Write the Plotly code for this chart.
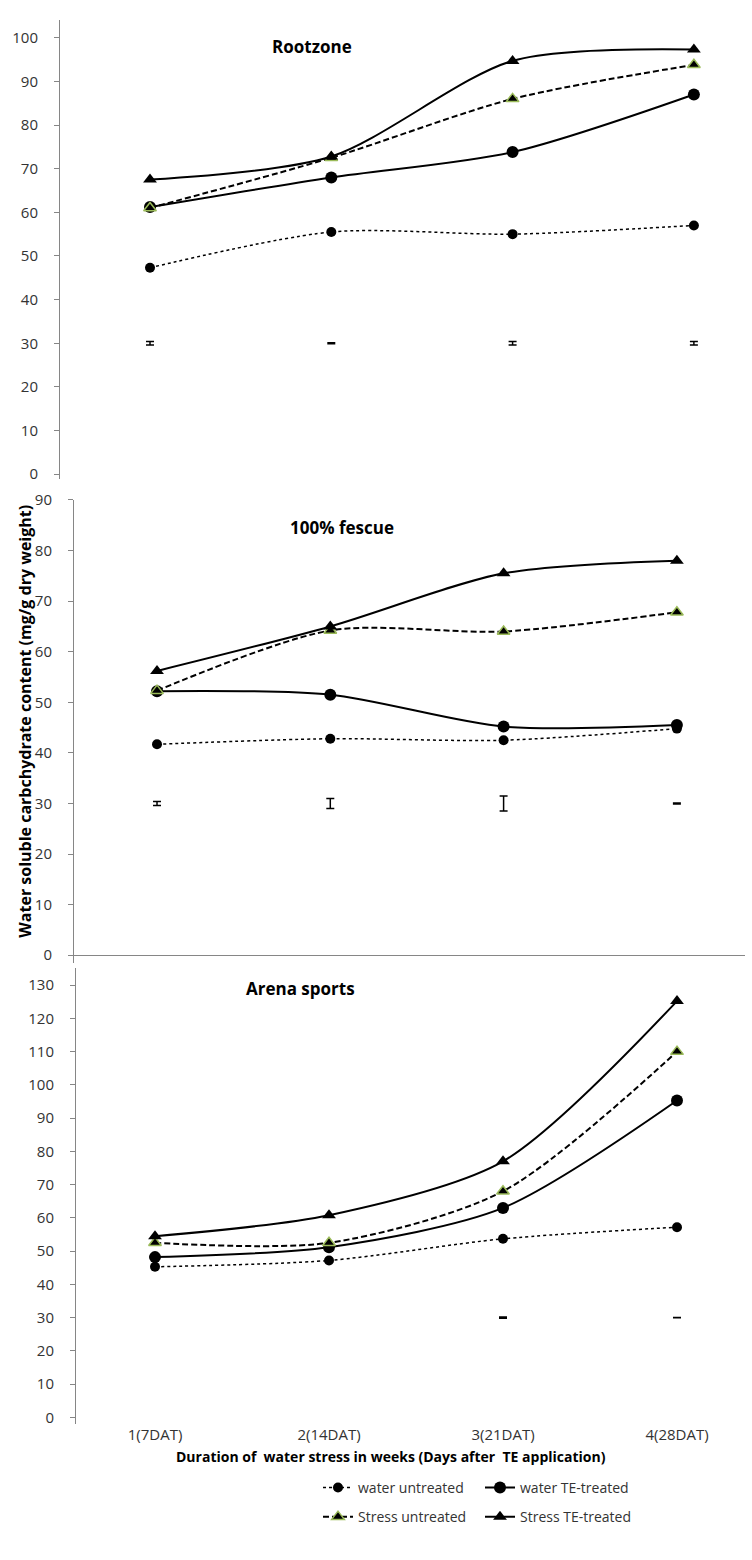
import plotly.graph_objects as go

# ---------------- data ----------------
categories = ["1(7DAT)", "2(14DAT)", "3(21DAT)", "4(28DAT)"]
series_names = ["water untreated", "water TE-treated", "Stress untreated", "Stress TE-treated"]

root_water_untreated = [47.3, 55.5, 55.0, 57.0]
root_water_te = [61.2, 68.0, 73.8, 87.0]
root_stress_untreated = [61.0, 72.5, 86.0, 93.8]
root_stress_te = [67.5, 72.8, 94.7, 97.3]
root_lsd_level = [30, 30, 30, 30]
root_lsd = [0.4, 0.1, 0.4, 0.4]

fescue_water_untreated = [41.7, 42.8, 42.5, 44.8]
fescue_water_te = [52.2, 51.5, 45.2, 45.5]
fescue_stress_untreated = [52.3, 64.2, 64.0, 67.8]
fescue_stress_te = [56.2, 65.0, 75.5, 78.0]
fescue_lsd_level = [30, 30, 30, 30]
fescue_lsd = [0.4, 1.0, 1.5, 0.1]

arena_water_untreated = [45.3, 47.2, 53.7, 57.2]
arena_water_te = [48.2, 51.2, 63.0, 95.3]
arena_stress_untreated = [52.5, 52.5, 68.0, 110.0]
arena_stress_te = [54.5, 60.8, 77.0, 125.2]
arena_lsd_level = [None, None, 30, 30]
arena_lsd = [0, 0, 0.2, 0.05]

panel_titles = ["Rootzone", "100% fescue", "Arena sports"]
y_title = "Water soluble carbchydrate content (mg/g dry weight)"
x_title = "Duration of  water stress in weeks (Days after  TE application)"

# ---------------- layout helpers ----------------
W, H = 752, 1560
FONT = "Open Sans"
AX = "#868686"
TXT = "#333333"


def px(x):
    return x / W


def py(y):
    return 1 - y / H


xpos = list(range(len(categories)))

styles = [
    dict(line=dict(color="black", width=1.5, dash="dot"),
         marker=dict(symbol="circle", size=10, color="black")),
    dict(line=dict(color="black", width=2),
         marker=dict(symbol="circle", size=12, color="black")),
    dict(line=dict(color="black", width=2, dash="6px,3px"),
         marker=dict(symbol="triangle-up", size=11, color="black",
                     line=dict(color="#9BBB59", width=1.5))),
    dict(line=dict(color="black", width=2),
         marker=dict(symbol="triangle-up", size=12, color="black")),
]
legend_of = ["legend", "legend2", "legend", "legend2"]

panels = [
    [root_water_untreated, root_water_te, root_stress_untreated, root_stress_te,
     root_lsd_level, root_lsd],
    [fescue_water_untreated, fescue_water_te, fescue_stress_untreated, fescue_stress_te,
     fescue_lsd_level, fescue_lsd],
    [arena_water_untreated, arena_water_te, arena_stress_untreated, arena_stress_te,
     arena_lsd_level, arena_lsd],
]

fig = go.Figure()

for p, pdata in enumerate(panels):
    xa = "x" if p == 0 else f"x{p + 1}"
    ya = "y" if p == 0 else f"y{p + 1}"
    for s in range(4):
        st = styles[s]
        fig.add_trace(go.Scatter(
            x=xpos, y=pdata[s], name=series_names[s],
            mode="lines+markers",
            line=dict(shape="spline", smoothing=0.8, **st["line"]),
            marker=st["marker"],
            xaxis=xa, yaxis=ya,
            showlegend=(p == 0),
            legend=legend_of[s],
            legendgroup=series_names[s],
            legendrank=s,
        ))
    fig.add_trace(go.Scatter(
        x=xpos, y=pdata[4], mode="markers",
        marker=dict(size=1, color="rgba(0,0,0,0)"),
        error_y=dict(type="data", array=pdata[5], visible=True,
                     color="black", thickness=1.5, width=4),
        xaxis=xa, yaxis=ya, showlegend=False, hoverinfo="skip",
    ))

yaxis_common = dict(showline=True, linecolor=AX, linewidth=1, ticks="outside",
                    ticklen=5, tickcolor=AX, showgrid=False, zeroline=False,
                    dtick=10, tick0=0, tickfont=dict(family=FONT, size=15, color=TXT),
                    ticklabelstandoff=13)
xaxis_common = dict(showline=False, showgrid=False, zeroline=False, ticks="",
                    tickvals=xpos, ticktext=categories,
                    tickfont=dict(family=FONT, size=15, color=TXT))

fig.update_layout(
    width=W, height=H,
    margin=dict(l=0, r=0, t=0, b=0),
    paper_bgcolor="white", plot_bgcolor="rgba(0,0,0,0)",
    font=dict(family=FONT, color=TXT),
    xaxis=dict(domain=[px(60), 1], range=[-0.4964, 3.3205], anchor="y",
               showticklabels=False, **xaxis_common),
    yaxis=dict(domain=[py(472.4), py(9.4)], range=[-1, 104], anchor="x", **yaxis_common),
    xaxis2=dict(domain=[px(74), px(745)], range=[-0.479, 3.393], anchor="y2",
                showticklabels=False, **xaxis_common),
    yaxis2=dict(domain=[py(961.7), py(494)], range=[-1.5, 90], anchor="x2",
                **{**yaxis_common, "zeroline": True, "zerolinecolor": AX, "zerolinewidth": 1}),
    xaxis3=dict(domain=[px(76), 1], range=[-0.454, 3.431], anchor="y3",
                showticklabels=True, **xaxis_common),
    yaxis3=dict(domain=[py(1427.7), py(967.4)], range=[-2, 135], anchor="x3", **yaxis_common),
    legend=dict(x=px(318), y=py(1476), xanchor="left", yanchor="top",
                font=dict(family=FONT, size=14, color=TXT), tracegroupgap=8,
                bgcolor="rgba(0,0,0,0)", itemwidth=30),
    legend2=dict(x=px(480), y=py(1476), xanchor="left", yanchor="top",
                 font=dict(family=FONT, size=14, color=TXT), tracegroupgap=8,
                 bgcolor="rgba(0,0,0,0)", itemwidth=30),
)

# panel titles
title_pos = [(312, 36), (342, 522), (300, 988)]
for t, (tx, ty) in zip(panel_titles, title_pos):
    fig.add_annotation(text=f"<b>{t}</b>", x=px(tx), y=py(ty), xref="paper", yref="paper",
                       xanchor="center", yanchor="middle",
                       showarrow=False, font=dict(family=FONT, size=17, color="black"))

fig.add_annotation(text=f"<b>{y_title}</b>", x=px(25), y=py(718), xref="paper", yref="paper",
                   xanchor="center", yanchor="middle",
                   textangle=-90, showarrow=False, font=dict(family=FONT, size=16, color="black"))
fig.add_annotation(text=f"<b>{x_title}</b>", x=px(391), y=py(1460), xref="paper", yref="paper",
                   xanchor="center", yanchor="middle",
                   showarrow=False, font=dict(family=FONT, size=14, color="black"))

fig.write_html("out.html", config={"displayModeBar": False},
               post_script="document.body.style.margin='0';")
